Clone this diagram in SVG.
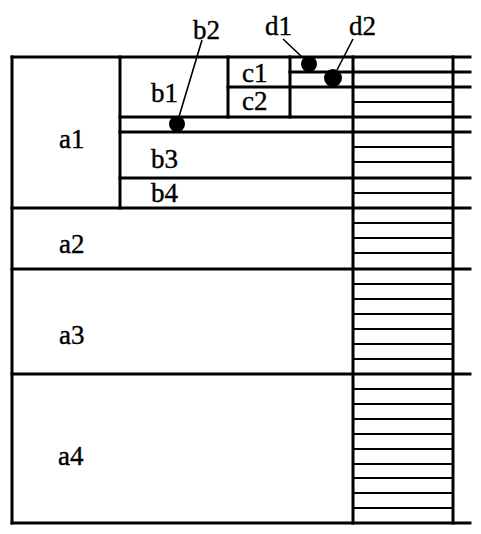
<svg xmlns="http://www.w3.org/2000/svg" width="481" height="534" viewBox="0 0 481 534">
<style>
text{font-family:'Liberation Serif','Times New Roman',Times,serif;font-size:27px;fill:#000;stroke:#000;stroke-width:0.4}
.m{stroke:#000;stroke-width:3;fill:none;stroke-linecap:square}
.h{stroke:#000;stroke-width:2;fill:none}
.l{stroke:#000;stroke-width:1.6;fill:none}
</style>
<rect width="481" height="534" fill="#fff"/>
<g id="grid">
  <path class="m" d="M12 57H470 M290 72H470 M228 87H470 M120 117H470 M120 132H470 M120 178H470 M12 208H470 M12 269H470 M12 374H470 M12 523H470"/>
  <path class="m" d="M12 57V523 M120 57V208 M228 57V117 M290 57V117 M353 57V523 M453 57V523"/>
  <path class="h" d="M353 102H453 M353 147H453 M353 162H453 M353 193H453 M353 223H453 M353 238H453 M353 253H453 M353 284H453 M353 299H453 M353 314H453 M353 329H453 M353 344H453 M353 359H453 M353 389H453 M353 404H453 M353 419H453 M353 434H453 M353 449H453 M353 464H453 M353 478H453 M353 493H453 M353 508H453"/>
</g>
<g id="connectors">
  <path class="l" d="M202 40L178 120"/>
  <path class="l" d="M283 39L302 57"/>
  <path class="l" d="M353 39L337 70"/>
</g>
<g id="a1"><text x="59" y="148">a1</text></g>
<g id="a2"><text x="59" y="253">a2</text></g>
<g id="a3"><text x="59" y="344">a3</text></g>
<g id="a4"><text x="58" y="465">a4</text></g>
<g id="b1"><text x="151" y="102">b1</text></g>
<g id="b2">
  <text x="193" y="39">b2</text>
  <circle cx="177" cy="124" r="8" fill="#000"/>
</g>
<g id="b3"><text x="151" y="168">b3</text></g>
<g id="b4"><text x="151" y="202">b4</text></g>
<g id="c1"><text x="242" y="82">c1</text></g>
<g id="c2"><text x="242" y="110">c2</text></g>
<g id="d1">
  <text x="265" y="35">d1</text>
  <circle cx="309" cy="64" r="8" fill="#000"/>
</g>
<g id="d2">
  <text x="349" y="35">d2</text>
  <circle cx="333" cy="78" r="9" fill="#000"/>
</g>
</svg>
